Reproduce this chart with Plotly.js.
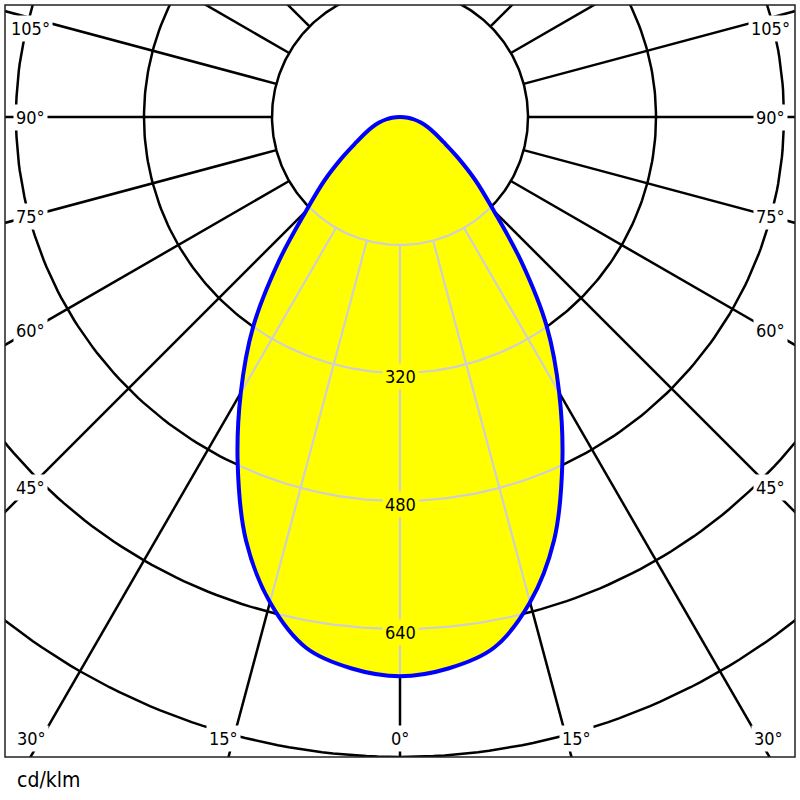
<!DOCTYPE html>
<html>
<head>
<meta charset="utf-8">
<script src="https://cdn.plot.ly/plotly-3.0.1.min.js"></script>
<style>
  html, body { margin: 0; padding: 0; background: #fff; }
  #chart { width: 800px; height: 800px; }
</style>
</head>
<body>
<div id="chart"></div>
<script>
// Luminous intensity in cd/klm (both half-planes are the same)
const gammaDeg = [0, 5, 10, 15, 20, 25, 30, 35, 40, 45, 50, 55, 60, 65, 70, 75, 80, 85, 90];
const intensity = [699, 692, 674, 628, 563, 480, 398, 320, 236, 166, 123, 88, 63, 48, 37, 27, 18, 10, 0];

const gridRadii = [160, 320, 480, 640, 800];
const radialLabels = [320, 480, 640];
const spokeAngles = [0, 15, 30, 45, 60, 75, 90, 105, 120, 135, 150, 165, 180];
const angleLabels = [0, 15, 30, 45, 60, 75, 90, 105];
const unitLabel = "cd/klm";

const FONT = "DejaVu Sans Condensed, DejaVu Sans, sans-serif";
const rad = d => d * Math.PI / 180;

// gamma measured from straight down, negative = left half
function toXY(r, g) {
  return [r * Math.sin(rad(g)), -r * Math.cos(rad(g))];
}

function intensityAt(g) {
  g = Math.abs(g);
  for (let i = 0; i < gammaDeg.length - 1; i++) {
    if (g <= gammaDeg[i + 1]) {
      const f = (g - gammaDeg[i]) / (gammaDeg[i + 1] - gammaDeg[i]);
      return intensity[i] + f * (intensity[i + 1] - intensity[i]);
    }
  }
  return 0;
}

// angle where the curve drops to radius R
function crossingAngle(R) {
  for (let i = 0; i < gammaDeg.length - 1; i++) {
    if (intensity[i] >= R && intensity[i + 1] < R) {
      const f = (intensity[i] - R) / (intensity[i] - intensity[i + 1]);
      return gammaDeg[i] + f * (gammaDeg[i + 1] - gammaDeg[i]);
    }
  }
  return null;
}

// black grid: circles
const gx = [], gy = [];
gridRadii.forEach(R => {
  for (let a = 0; a <= 360; a += 1) {
    const p = toXY(R, a);
    gx.push(p[0]); gy.push(p[1]);
  }
  gx.push(null); gy.push(null);
});
// black grid: spokes from the first circle outwards
spokeAngles.forEach(a => {
  const sides = (a === 0 || a === 180) ? [1] : [-1, 1];
  sides.forEach(s => {
    const p0 = toXY(gridRadii[0], s * a);
    const p1 = toXY(1200, s * a);
    gx.push(p0[0], p1[0], null);
    gy.push(p0[1], p1[1], null);
  });
});

// light grid inside the curve
const lx = [], ly = [];
gridRadii.forEach(R => {
  const gc = crossingAngle(R);
  if (gc === null) return;
  for (let a = -gc; a <= gc + 1e-9; a += Math.max(gc / 60, 0.25)) {
    const p = toXY(R, a);
    lx.push(p[0]); ly.push(p[1]);
  }
  const pe = toXY(R, gc);
  lx.push(pe[0], null); ly.push(pe[1], null);
});
spokeAngles.forEach(a => {
  const top = intensityAt(a);
  if (a > 90 || top <= gridRadii[0]) return;
  const sides = a === 0 ? [1] : [-1, 1];
  sides.forEach(s => {
    const p0 = toXY(gridRadii[0], s * a);
    const p1 = toXY(top, s * a);
    lx.push(p0[0], p1[0], null);
    ly.push(p0[1], p1[1], null);
  });
});

// distribution curve, left half then right half
const cx = [], cy = [];
for (let i = gammaDeg.length - 1; i >= 0; i--) {
  const p = toXY(intensity[i], -gammaDeg[i]);
  cx.push(p[0]); cy.push(p[1]);
}
for (let i = 1; i < gammaDeg.length; i++) {
  const p = toXY(intensity[i], gammaDeg[i]);
  cx.push(p[0]); cy.push(p[1]);
}

// pixel layout: centre at (400,117), 0.8 px per cd/klm
const PX = 0.8;
const xHalf = 395 / PX;
const yTop = 112 / PX, yBottom = -640 / PX;

// angle labels sit where each spoke meets an inset box
const labelX = 370 / PX, labelTop = 89 / PX, labelBottom = -621 / PX;
const annotations = [];
angleLabels.forEach(a => {
  [-1, 1].forEach(s => {
    if (a === 0 && s === 1) return;
    let x, y;
    const sn = Math.sin(rad(a)), cs = Math.cos(rad(a));
    if (a === 0) { x = 0; y = labelBottom; }
    else {
      const t = labelX / sn;
      y = -t * cs;
      x = s * labelX;
      if (y < labelBottom) {
        const t2 = -labelBottom / cs;
        x = s * (t2 * sn + 10 / PX);
        y = labelBottom;
      }
      if (y > labelTop) y = labelTop;
    }
    annotations.push({
      x: x, y: y, xref: "x", yref: "y", text: a + "°", showarrow: false,
      font: { family: FONT, size: 18, color: "#000" },
      bgcolor: "#fff", borderpad: 2, xanchor: "center", yanchor: "middle"
    });
  });
});
radialLabels.forEach(R => {
  annotations.push({
    x: 0, y: -R, xref: "x", yref: "y", text: String(R), showarrow: false,
    font: { family: FONT, size: 18, color: "#000" },
    bgcolor: "#ffff00", borderpad: 2, xanchor: "center", yanchor: "middle", yshift: -3
  });
});
annotations.push({
  x: 10 / 790, y: -23 / 752, xref: "paper", yref: "paper", text: unitLabel,
  showarrow: false, xanchor: "left", yanchor: "middle",
  font: { family: FONT, size: 21, color: "#000" }
});

const traces = [
  { x: gx, y: gy, mode: "lines", line: { color: "#000", width: 2.5 }, hoverinfo: "skip" },
  { x: cx, y: cy, mode: "lines", fill: "toself", fillcolor: "#ffff00",
    line: { width: 0, color: "#ffff00", shape: "spline", smoothing: 1 }, hoverinfo: "skip" },
  { x: lx, y: ly, mode: "lines", line: { color: "#cfcfcf", width: 2.2 }, hoverinfo: "skip" },
  { x: cx, y: cy, mode: "lines",
    line: { color: "#0000ff", width: 4, shape: "spline", smoothing: 1 }, hoverinfo: "skip" }
];

const layout = {
  width: 800, height: 800,
  margin: { l: 5, r: 5, t: 5, b: 43 },
  paper_bgcolor: "#fff", plot_bgcolor: "#fff",
  showlegend: false,
  xaxis: { range: [-xHalf, xHalf], visible: false, fixedrange: true },
  yaxis: { range: [yBottom, yTop], visible: false, fixedrange: true },
  shapes: [{
    type: "rect", xref: "paper", yref: "paper", x0: 0, x1: 1, y0: 0, y1: 1,
    line: { color: "#222", width: 1.5 }
  }],
  annotations: annotations
};

Plotly.newPlot("chart", traces, layout, { staticPlot: true, displayModeBar: false });
</script>
</body>
</html>
